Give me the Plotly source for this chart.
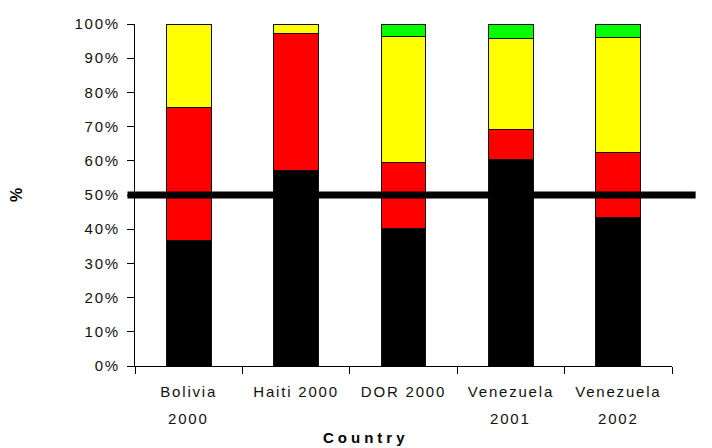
import plotly.graph_objects as go

countries = ["Bolivia 2000", "Haiti 2000", "DOR 2000", "Venezuela 2001", "Venezuela 2002"]
label_line1 = ["Bolivia", "Haiti 2000", "DOR 2000", "Venezuela", "Venezuela"]
label_line2 = ["2000", "", "", "2001", "2002"]

black_vals = [36.7, 57.1, 40.3, 60.3, 43.4]
red_vals = [38.8, 40.1, 19.2, 8.8, 19.0]
yellow_vals = [24.5, 2.8, 36.8, 26.7, 33.8]
green_vals = [0.0, 0.0, 3.7, 4.2, 3.8]

ytick_vals = [0, 10, 20, 30, 40, 50, 60, 70, 80, 90, 100]
ytick_text = [f"{v}%" for v in ytick_vals]
ref_level = 50

FONT = "Liberation Sans, Arial, sans-serif"
SP = "letter-spacing:1.8px"

def sp(t, s=SP):
    return f"<span style='{s}'>{t}</span>" if t else t

fig = go.Figure()
for name, vals, col in [("black", black_vals, "#000000"), ("red", red_vals, "#ff0000"),
                        ("yellow", yellow_vals, "#ffff00"), ("green", green_vals, "#00ff00")]:
    fig.add_trace(go.Bar(x=countries, y=vals, name=name,
                         marker=dict(color=col, line=dict(color="#111111", width=1))))

fig.add_shape(type="line", xref="paper", yref="y", x0=-0.014, x1=1.044,
              y0=ref_level, y1=ref_level, line=dict(color="black", width=7), layer="above")

for c, t in zip(countries, label_line2):
    if t:
        fig.add_annotation(x=c, xref="x", y=0, yref="y", text=sp(t), showarrow=False,
                           yanchor="middle", yshift=-52,
                           font=dict(family=FONT, size=15, color="#111111"))

fig.add_annotation(x=0.5, xref="paper", y=0, yref="y", xshift=-38, yshift=-71,
                   text=sp("<b>Country</b>", "letter-spacing:4px"), showarrow=False,
                   yanchor="middle", font=dict(family=FONT, size=15, color="#000000"))

fig.update_layout(
    barmode="stack", bargap=0.583, showlegend=False,
    width=704, height=440,
    margin=dict(l=127, r=40, t=16, b=82, autoexpand=False),
    paper_bgcolor="white", plot_bgcolor="white",
    font=dict(family=FONT, size=15, color="#111111"),
)
fig.update_xaxes(
    tickvals=countries, ticktext=[sp(t) for t in label_line1],
    tickson="boundaries", ticks="outside", ticklen=7, tickcolor="black",
    ticklabelstandoff=12, automargin=False,
    showline=True, linecolor="black", linewidth=1, showgrid=False,
    tickfont=dict(family=FONT, size=15, color="#111111"),
)
fig.update_yaxes(
    range=[0, 100], tickvals=ytick_vals, ticktext=[sp(t) for t in ytick_text],
    ticks="outside", ticklen=7, tickcolor="black", ticklabelstandoff=4, automargin=False,
    showline=True, linecolor="black", linewidth=1, showgrid=False, zeroline=False,
    tickfont=dict(family=FONT, size=15, color="#111111"),
    title=dict(text="<b>%</b>", font=dict(family=FONT, size=16, color="#000000"), standoff=48),
)

fig.write_html("out.html")
